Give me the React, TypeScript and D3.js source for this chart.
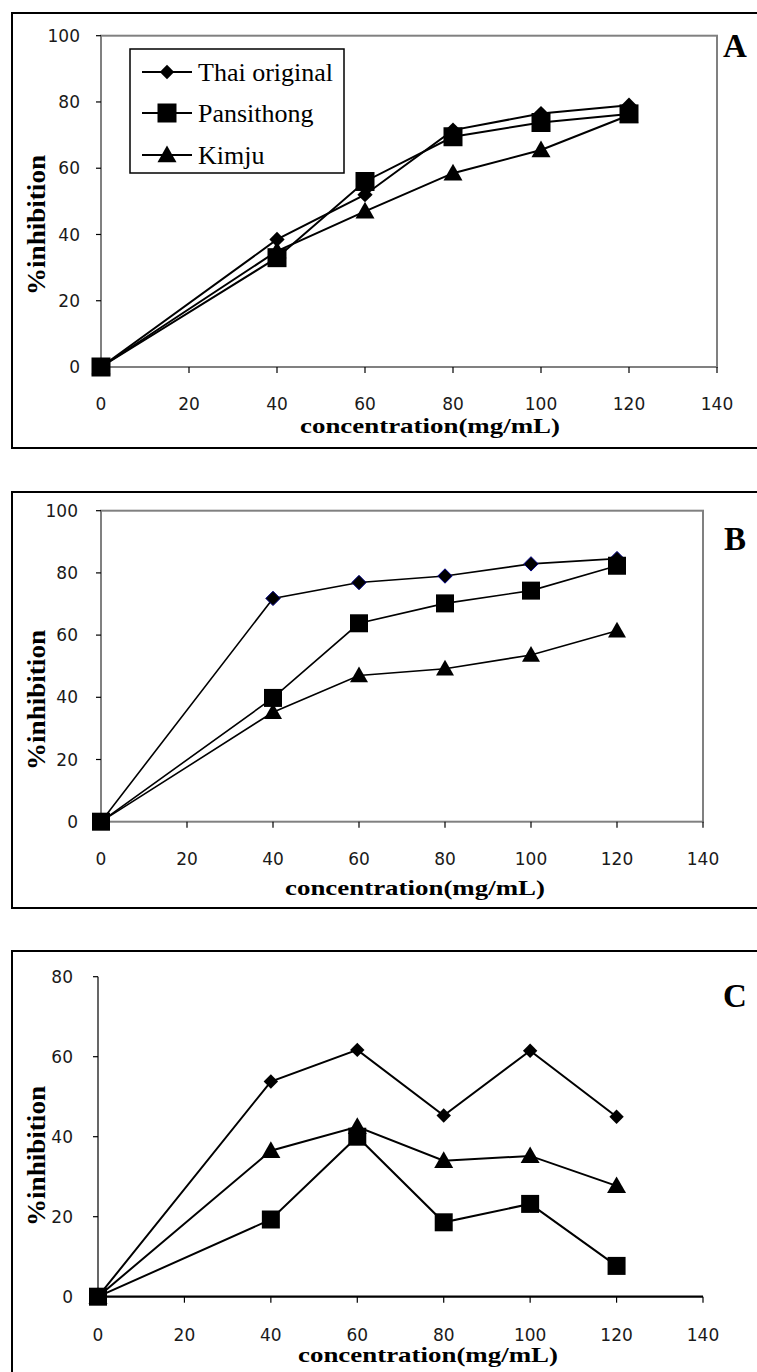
import React from 'react';
import * as d3 from 'd3';

// concentration (mg/mL)
const concentrations = [0, 40, 60, 80, 100, 120];

// panel A
const thaiA = [0, 38.5, 52, 71.5, 76.5, 79];
const pansiA = [0, 33, 56, 69.5, 73.8, 76.4];
const kimjuA = [0, 35, 47, 58.5, 65.5, 76];

// panel B
const thaiB = [0, 71.8, 76.9, 79, 82.9, 84.6];
const pansiB = [0, 39.8, 63.8, 70.2, 74.3, 82.3];
const kimjuB = [0, 35.2, 47, 49.2, 53.6, 61.4];

// panel C
const thaiC = [0, 53.8, 61.7, 45.3, 61.5, 45];
const pansiC = [0, 19.3, 40, 18.6, 23.2, 7.7];
const kimjuC = [0, 36.5, 42.5, 34, 35.2, 27.7];

const seriesNames = ['Thai original', 'Pansithong', 'Kimju'];
const seriesShapes = ['diamond', 'square', 'triangle'];
const xTicks = [0, 20, 40, 60, 80, 100, 120, 140];
const yTicksAB = [0, 20, 40, 60, 80, 100];
const yTicksC = [0, 20, 40, 60, 80];

const W = 757;
const H = 1372;

function markerPath(shape, s) {
    if (shape === 'square') return `M${-s / 2},${-s / 2}h${s}v${s}h${-s}Z`;
    if (shape === 'diamond') { const r = s * 0.45; return `M0,${-r}L${r},0L0,${r}L${-r},0Z`; }
    return `M0,${-s * 0.5}L${s * 0.5},${s * 0.38}L${-s * 0.5},${s * 0.38}Z`;
}

function Panel({ box, x0, x1, yTop, yBottom, yMax, yTicks, series, letter, frame, lineW, marker, diamondStroke, titleX, titleY, yTitleY, tickGap, labelGap }) {
    const xScale = d3.scaleLinear().domain([0, 140]).range([x0, x1]);
    const yScale = d3.scaleLinear().domain([0, yMax]).range([yBottom, yTop]);
    const line = d3.line().x((d) => xScale(d[0])).y((d) => yScale(d[1]));

    return (
        <g>
            <rect x={box.x} y={box.y} width={box.w} height={box.h} fill="white" stroke="black" strokeWidth={2} />
            {frame ? (
                <rect x={x0} y={yTop} width={x1 - x0} height={yBottom - yTop} fill="none" stroke="#808080" strokeWidth={2} />
            ) : (
                <g>
                    <line x1={x0} x2={x0} y1={yTop} y2={yBottom} stroke="black" strokeWidth={1.2} />
                    <line x1={x0} x2={x1} y1={yBottom} y2={yBottom} stroke="black" strokeWidth={2.2} />
                </g>
            )}
            {yTicks.map((t) => (
                <g key={'y' + t}>
                    <line x1={x0 - 5} x2={x0} y1={yScale(t)} y2={yScale(t)} stroke="black" strokeWidth={1.2} />
                    <text x={x0 - labelGap} y={yScale(t)} dy="0.36em" textAnchor="end" fontFamily="DejaVu Sans" fontSize={17} fill="#1a1a1a">{t}</text>
                </g>
            ))}
            {xTicks.map((t) => (
                <g key={'x' + t}>
                    <line x1={xScale(t)} x2={xScale(t)} y1={yBottom} y2={yBottom + 6} stroke="black" strokeWidth={1.2} />
                    <text x={xScale(t)} y={yBottom + tickGap} dy="0.36em" textAnchor="middle" fontFamily="DejaVu Sans" fontSize={17} fill="#1a1a1a">{t}</text>
                </g>
            ))}
            {series.map((vals, i) => (
                <path key={'l' + i} d={line(concentrations.map((c, j) => [c, vals[j]]))} fill="none" stroke="black" strokeWidth={lineW} />
            ))}
            {series.map((vals, i) => (
                <g key={'m' + i}>
                    {concentrations.map((c, j) => (
                        <path key={j} transform={`translate(${xScale(c)},${yScale(vals[j])})`}
                            d={markerPath(seriesShapes[i], seriesShapes[i] === 'diamond' ? marker.diamond : seriesShapes[i] === 'square' ? marker.square : marker.triangle)}
                            fill="black" stroke={seriesShapes[i] === 'diamond' ? diamondStroke : 'none'} strokeWidth={1} />
                    ))}
                </g>
            ))}
            <text x={titleX} y={titleY} textAnchor="middle" fontFamily="Liberation Serif" fontWeight="bold" fontSize={21}
                textLength={260} lengthAdjust="spacingAndGlyphs">concentration(mg/mL)</text>
            <text transform={`translate(45,${yTitleY}) rotate(-90)`} textAnchor="middle" fontFamily="Liberation Serif" fontWeight="bold" fontSize={25}
                textLength={140} lengthAdjust="spacingAndGlyphs">%inhibition</text>
            <text x={735} y={letter.y} textAnchor="middle" fontFamily="Liberation Serif" fontWeight="bold" fontSize={33}>{letter.text}</text>
        </g>
    );
}

function Legend() {
    const rows = [72, 113, 155];
    return (
        <g>
            <rect x={130} y={49} width={214} height={124} fill="white" stroke="black" strokeWidth={1.5} />
            {seriesNames.map((name, i) => (
                <g key={name}>
                    <line x1={142} x2={192} y1={rows[i]} y2={rows[i]} stroke="black" strokeWidth={2} />
                    <path transform={`translate(167,${rows[i]})`} d={markerPath(seriesShapes[i], seriesShapes[i] === 'diamond' ? 16 : 19)} fill="black" />
                    <text x={198} y={rows[i]} dy="0.34em" fontFamily="Liberation Serif" fontSize={26}>{name}</text>
                </g>
            ))}
        </g>
    );
}

export default function App() {
    return (
        <svg width={W} height={H} style={{ position: 'absolute', left: 0, top: 0, display: 'block', background: 'white' }}>
            <Panel box={{ x: 12, y: 13, w: 760, h: 435 }} x0={101} x1={717} yTop={35.7} yBottom={367} yMax={100} yTicks={yTicksAB}
                series={[thaiA, pansiA, kimjuA]} letter={{ text: 'A', y: 57 }} frame={true} lineW={2}
                marker={{ diamond: 17, square: 19, triangle: 19 }} diamondStroke="none" titleX={430} titleY={433} yTitleY={225} tickGap={37} labelGap={21} />
            <Legend />
            <Panel box={{ x: 12, y: 492, w: 760, h: 416 }} x0={101} x1={703} yTop={510.7} yBottom={821.7} yMax={100} yTicks={yTicksAB}
                series={[thaiB, pansiB, kimjuB]} letter={{ text: 'B', y: 550 }} frame={true} lineW={1.6}
                marker={{ diamond: 16, square: 18, triangle: 18 }} diamondStroke="#000080" titleX={415} titleY={895} yTitleY={700} tickGap={37} labelGap={23} />
            <Panel box={{ x: 12, y: 951, w: 760, h: 440 }} x0={98} x1={703} yTop={976.7} yBottom={1296.7} yMax={80} yTicks={yTicksC}
                series={[thaiC, pansiC, kimjuC]} letter={{ text: 'C', y: 1007 }} frame={false} lineW={2}
                marker={{ diamond: 16, square: 18, triangle: 19 }} diamondStroke="none" titleX={428} titleY={1362} yTitleY={1156} tickGap={38} labelGap={25} />
        </svg>
    );
}
